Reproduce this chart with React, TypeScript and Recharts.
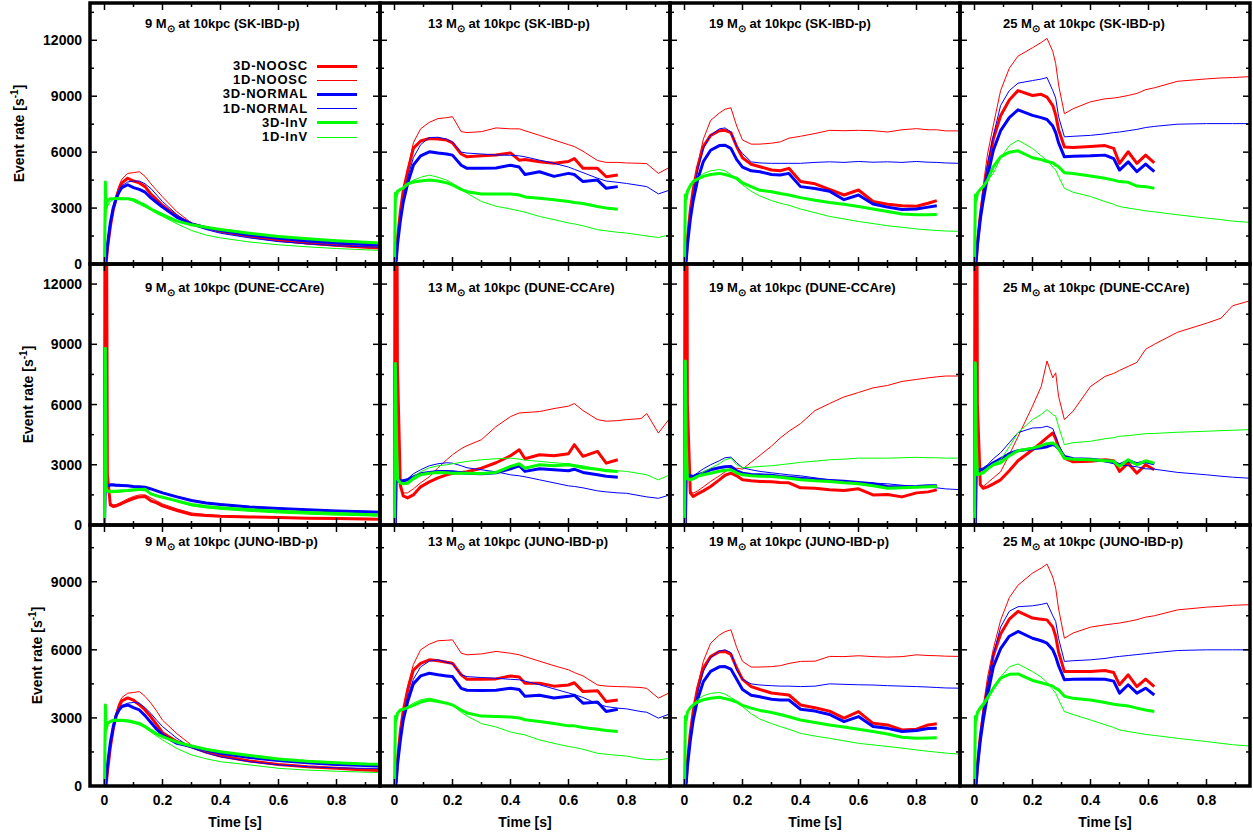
import { LineChart, Line, XAxis, YAxis, Legend } from 'recharts';

const FONT = '"Liberation Sans", Arial, Helvetica, sans-serif';
const PW = 290;
const PH = 261;
const colLeft = [90, 380, 670, 960];
const rowTop = [3, 264, 525];

const masses = ['9', '13', '19', '25'];
const detectors = ['SK-IBD-p', 'DUNE-CCAre', 'JUNO-IBD-p'];
const rowMax = [14000, 13000, 11500];
const yTicksSK = [0, 1500, 3000, 4500, 6000, 7500, 9000, 10500, 12000, 13500];
const yTicksDUNE = [0, 1500, 3000, 4500, 6000, 7500, 9000, 10500, 12000];
const yTicksJUNO = [0, 1500, 3000, 4500, 6000, 7500, 9000, 10500];
const xTicks = [0, 0.1, 0.2, 0.3, 0.4, 0.5, 0.6, 0.7, 0.8, 0.9];

// time grids (s), one per progenitor mass
const t9 = [0, 0.003, 0.006, 0.01, 0.02, 0.03, 0.04, 0.05, 0.06, 0.08, 0.1, 0.12, 0.14, 0.16, 0.18, 0.2, 0.25, 0.3, 0.35, 0.4, 0.5, 0.6, 0.7, 0.8, 0.9, 0.95];
const t13 = [0, 0.003, 0.006, 0.01, 0.02, 0.03, 0.045, 0.065, 0.09, 0.12, 0.15, 0.18, 0.2, 0.23, 0.25, 0.3, 0.35, 0.4, 0.43, 0.45, 0.5, 0.55, 0.6, 0.62, 0.65, 0.7, 0.73, 0.77, 0.8, 0.85, 0.87, 0.91, 0.95];
const t19 = [0, 0.003, 0.006, 0.01, 0.02, 0.03, 0.045, 0.065, 0.09, 0.12, 0.14, 0.16, 0.18, 0.2, 0.23, 0.26, 0.3, 0.33, 0.36, 0.4, 0.45, 0.5, 0.55, 0.6, 0.65, 0.7, 0.75, 0.8, 0.84, 0.87, 0.9, 0.95];
const t25 = [0, 0.003, 0.006, 0.01, 0.02, 0.03, 0.045, 0.065, 0.09, 0.12, 0.15, 0.2, 0.23, 0.25, 0.27, 0.28, 0.29, 0.31, 0.34, 0.4, 0.45, 0.48, 0.5, 0.53, 0.56, 0.59, 0.62, 0.7, 0.8, 0.85, 0.89, 0.95];

// SK-IBD-p
const sk9Noosc3d = [0, 0, 100, 800, 2000, 2900, 3500, 4000, 4350, 4600, 4450, 4350, 4150, 3750, 3450, 3150, 2550, 2150, 1950, 1750, 1500, 1300, 1130, 1000, 900, 860];
const sk9Noosc1d = [0, 0, 200, 900, 2100, 3000, 3700, 4200, 4550, 4860, 4900, 4950, 4700, 4300, 3950, 3600, 2800, 2200, 1900, 1700, 1420, 1220, 1070, 960, 880, 850];
const sk9Normal3d = [0, 0, 300, 1000, 2200, 3000, 3500, 3850, 4100, 4250, 4100, 4000, 3850, 3550, 3300, 3050, 2500, 2150, 1950, 1800, 1550, 1380, 1230, 1120, 1050, 1020];
const sk9Normal1d = [0, 0, 300, 1000, 2200, 3000, 3550, 3950, 4200, 4400, 4450, 4450, 4300, 4050, 3700, 3350, 2650, 2100, 1850, 1650, 1400, 1200, 1080, 980, 920, 900];
const sk9Inv3d = [0, 4400, 3000, 3400, 3500, 3500, 3520, 3500, 3500, 3500, 3450, 3300, 3150, 2950, 2800, 2650, 2300, 2100, 1970, 1850, 1650, 1480, 1350, 1250, 1170, 1130];
const sk9Inv1d = [0, 2000, 2800, 3100, 3350, 3450, 3520, 3550, 3540, 3500, 3350, 3200, 3050, 2900, 2700, 2550, 2150, 1800, 1550, 1400, 1180, 1030, 920, 830, 760, 730];

const sk13Noosc3d = [0, 0, 300, 1300, 2800, 3900, 4950, 6200, 6600, 6730, 6700, 6650, 6500, 5900, 5750, 5800, 5850, 5960, 5570, 5600, 5480, 5400, 5500, 5660, 5130, 5130, 4680, 4770];
const sk13Noosc1d = [0, 0, 200, 1200, 2700, 3800, 5000, 6500, 7250, 7600, 7800, 7850, 7900, 7100, 7050, 7100, 7300, 7250, 7250, 7150, 6900, 6650, 6400, 6300, 6050, 5550, 5450, 5450, 5420, 5400, 5380, 4860, 5200];
const sk13Normal3d = [0, 0, 200, 1000, 2300, 3300, 4300, 5300, 5800, 6020, 5950, 5900, 5840, 5300, 5130, 5130, 5150, 5300, 5200, 4800, 4950, 4700, 4860, 4800, 4420, 4500, 4060, 4150];
const sk13Normal1d = [0, 0, 200, 1100, 2500, 3500, 4600, 5700, 6400, 6780, 6800, 6700, 6550, 6000, 5950, 5900, 5850, 5830, 5800, 5750, 5570, 5400, 5200, 5080, 4900, 4600, 4450, 4380, 4320, 4200, 4150, 3760, 3970];
const sk13Inv3d = [0, 3800, 3600, 3900, 4000, 4060, 4300, 4400, 4450, 4500, 4450, 4350, 4240, 4000, 3880, 3760, 3760, 3760, 3700, 3600, 3530, 3450, 3350, 3300, 3250, 3080, 3000, 2940];
const sk13Inv1d = [0, 3000, 3500, 3800, 3950, 4050, 4300, 4500, 4650, 4770, 4650, 4500, 4330, 4000, 3800, 3350, 3100, 2950, 2850, 2780, 2550, 2380, 2200, 2150, 2050, 1840, 1780, 1700, 1660, 1550, 1500, 1420, 1570];

const sk19Noosc3d = [0, 0, 250, 1300, 2900, 4000, 5200, 6300, 6900, 7150, 7170, 7050, 6300, 5700, 5350, 5220, 5040, 5000, 5130, 4420, 4300, 4000, 3700, 3970, 3350, 3200, 3120, 3100, 3260, 3400];
const sk19Noosc1d = [0, 0, 200, 1200, 2800, 3900, 5300, 6700, 7700, 8100, 8300, 8380, 7400, 6650, 6430, 6430, 6480, 6550, 6750, 6850, 7000, 7170, 7150, 7170, 7150, 7080, 7200, 7260, 7200, 7200, 7140, 7140];
const sk19Normal3d = [0, 0, 200, 1000, 2400, 3400, 4500, 5500, 6100, 6350, 6370, 6200, 5600, 5200, 5000, 4950, 4800, 4770, 4860, 4150, 4050, 3900, 3450, 3700, 3220, 3050, 2920, 2950, 3050, 3120];
const sk19Normal1d = [0, 0, 200, 1100, 2600, 3700, 5000, 6200, 6900, 7250, 7300, 7080, 6300, 5930, 5480, 5420, 5400, 5400, 5400, 5400, 5450, 5480, 5450, 5500, 5460, 5480, 5450, 5500, 5460, 5450, 5420, 5400];
const sk19Inv3d = [0, 3700, 3500, 3900, 4200, 4420, 4550, 4700, 4800, 4860, 4800, 4700, 4600, 4350, 4150, 3950, 3880, 3780, 3700, 3560, 3420, 3300, 3200, 3080, 2950, 2820, 2680, 2640, 2640, 2650];
const sk19Inv1d = [0, 3000, 3500, 3800, 4100, 4350, 4600, 4850, 5000, 5070, 5000, 4800, 4500, 4250, 3900, 3650, 3400, 3260, 3150, 2950, 2750, 2550, 2420, 2280, 2170, 2050, 1970, 1880, 1830, 1800, 1770, 1750];

const sk25Noosc3d = [0, 0, 200, 1100, 2600, 3700, 5100, 6700, 7950, 8800, 9300, 9040, 9100, 8950, 8500, 8000, 7200, 6280, 6250, 6300, 6350, 6200, 5400, 6020, 5400, 5840, 5430];
const sk25Noosc1d = [0, 0, 200, 1200, 2900, 4200, 5900, 7450, 9300, 10500, 11150, 11600, 11880, 12100, 11400, 10750, 9600, 8060, 8330, 8700, 8860, 8900, 8950, 9040, 9150, 9350, 9450, 9800, 9930, 9980, 10000, 10050];
const sk25Normal3d = [0, 0, 200, 1000, 2400, 3400, 4700, 6100, 7150, 7850, 8270, 7970, 7850, 7750, 7400, 7050, 6500, 5750, 5780, 5800, 5840, 5650, 5040, 5480, 4950, 5360, 4950];
const sk25Normal1d = [0, 0, 200, 1100, 2700, 3900, 5400, 6900, 8500, 9300, 9700, 9840, 9920, 10000, 9300, 8900, 7900, 6820, 6850, 6900, 6980, 7050, 7080, 7150, 7220, 7320, 7380, 7500, 7530, 7530, 7530, 7530];
const sk25Inv3d = [0, 3700, 3400, 3800, 4000, 4150, 4500, 5220, 5750, 6000, 6070, 5700, 5600, 5500, 5430, 5300, 5220, 4900, 4860, 4720, 4600, 4500, 4420, 4380, 4180, 4150, 4060];
const sk25Inv1d = [0, 3000, 3500, 3800, 4000, 4150, 4500, 4860, 5700, 6350, 6640, 6200, 5800, 5570, 5200, 5040, 4700, 4060, 3850, 3620, 3350, 3200, 3080, 3000, 2930, 2850, 2800, 2640, 2460, 2380, 2300, 2230];

// DUNE-CCAre (first points above the frame are the neutronization burst)
const dune9Noosc3d = [750, 30000, 20000, 2500, 1000, 920, 950, 1000, 1080, 1200, 1320, 1400, 1420, 1200, 1100, 950, 720, 520, 470, 430, 400, 370, 340, 320, 300, 290];
const dune9Noosc1d = [1900, 30000, 15000, 2500, 1100, 1000, 1020, 1080, 1150, 1300, 1420, 1500, 1500, 1350, 1200, 1050, 800, 600, 520, 470, 420, 380, 360, 340, 330, 320];
const dune9Normal3d = [0, 2250, 2000, 1950, 2000, 2000, 1980, 1980, 1970, 1950, 1920, 1900, 1880, 1800, 1700, 1600, 1400, 1220, 1100, 1020, 900, 820, 760, 700, 660, 630];
const dune9Normal1d = [0, 2100, 1950, 1900, 1950, 1950, 1950, 1940, 1930, 1920, 1900, 1880, 1860, 1820, 1720, 1620, 1420, 1240, 1120, 1040, 920, 840, 770, 710, 670, 640];
const dune9Inv3d = [0, 8800, 1800, 1700, 1680, 1680, 1680, 1690, 1700, 1720, 1750, 1770, 1780, 1550, 1450, 1380, 1200, 1020, 920, 860, 760, 680, 620, 570, 520, 500];
const dune9Inv1d = [0, 8000, 1700, 1620, 1600, 1610, 1620, 1630, 1650, 1680, 1700, 1720, 1700, 1600, 1480, 1380, 1150, 950, 850, 780, 680, 600, 540, 490, 460, 440];

const dune13Noosc3d = [700, 30000, 30000, 8000, 2000, 1450, 1350, 1500, 1900, 2150, 2350, 2500, 2580, 2620, 2650, 2830, 3100, 3450, 3750, 3300, 3500, 3450, 3550, 4000, 3420, 3670, 3080, 3250];
const dune13Noosc1d = [1900, 30000, 20000, 5000, 1800, 1600, 1600, 1800, 2100, 2400, 2850, 3250, 3500, 3800, 3950, 4250, 4900, 5400, 5580, 5600, 5650, 5800, 5920, 6050, 5700, 5250, 5170, 5200, 5250, 5300, 5550, 4580, 5330];
const dune13Normal3d = [0, 0, 2300, 2250, 2200, 2200, 2250, 2400, 2550, 2620, 2660, 2660, 2650, 2600, 2580, 2550, 2600, 2800, 2950, 2670, 2800, 2750, 2700, 2780, 2620, 2500, 2430, 2380];
const dune13Normal1d = [0, 0, 2200, 2150, 2100, 2150, 2300, 2550, 2750, 2950, 3050, 3100, 3080, 2950, 2850, 2750, 2650, 2500, 2450, 2400, 2250, 2100, 1950, 1920, 1850, 1700, 1650, 1600, 1580, 1450, 1400, 1330, 1500];
const dune13Inv3d = [0, 8050, 5000, 2300, 2100, 2050, 2080, 2300, 2500, 2580, 2620, 2600, 2580, 2580, 2580, 2560, 2620, 2920, 3050, 2830, 3000, 2950, 3000, 2950, 2850, 2780, 2700, 2670];
const dune13Inv1d = [0, 7000, 4000, 2200, 2050, 2050, 2150, 2400, 2650, 2850, 2950, 3000, 3050, 3120, 3170, 3250, 3300, 3330, 3280, 3230, 3170, 3100, 3050, 3000, 2950, 2780, 2760, 2700, 2670, 2550, 2500, 2250, 2500];

const dune19Noosc3d = [700, 30000, 30000, 6000, 1600, 1420, 1550, 1700, 1920, 2250, 2480, 2580, 2450, 2250, 2200, 2170, 2150, 2120, 2100, 1850, 1830, 1750, 1720, 1800, 1500, 1520, 1400, 1600, 1650, 1750];
const dune19Noosc1d = [1500, 30000, 15000, 4000, 1700, 1580, 1700, 1900, 2170, 2450, 2650, 2830, 2830, 2780, 3130, 3470, 3930, 4330, 4670, 5050, 5700, 6050, 6380, 6600, 6830, 6950, 7150, 7250, 7330, 7380, 7420, 7420];
const dune19Normal3d = [0, 0, 2400, 2500, 2450, 2420, 2500, 2600, 2750, 2850, 2900, 2920, 2700, 2580, 2520, 2500, 2480, 2420, 2380, 2330, 2270, 2220, 2180, 2120, 2050, 1920, 1900, 1920, 1950, 1950];
const dune19Normal1d = [0, 0, 2300, 2400, 2420, 2450, 2600, 2800, 3000, 3200, 3350, 3380, 3100, 2850, 2750, 2670, 2600, 2550, 2500, 2450, 2350, 2250, 2180, 2120, 2090, 2050, 1980, 1920, 1880, 1850, 1800, 1760];
const dune19Inv3d = [0, 8170, 4000, 2300, 2250, 2300, 2420, 2500, 2580, 2680, 2730, 2750, 2600, 2500, 2450, 2430, 2420, 2380, 2330, 2250, 2200, 2170, 2100, 2050, 1950, 1830, 1850, 1880, 1900, 1920];
const dune19Inv1d = [0, 7000, 3500, 2300, 2300, 2350, 2450, 2650, 2830, 3050, 3250, 3330, 3000, 2850, 2880, 2920, 2950, 3000, 3050, 3120, 3180, 3250, 3280, 3330, 3330, 3330, 3350, 3370, 3350, 3350, 3330, 3330];

const dune25Noosc3d = [700, 30000, 30000, 6000, 2000, 1830, 1900, 2050, 2250, 2700, 3200, 3750, 4100, 4350, 4580, 4300, 3900, 3330, 3150, 3170, 3250, 3200, 2670, 3080, 2580, 3000, 2750];
const dune25Noosc1d = [1500, 30000, 15000, 4000, 2000, 1920, 2100, 2350, 2650, 3500, 4400, 5920, 6900, 8170, 7330, 7580, 6400, 5250, 5670, 6900, 7400, 7550, 7700, 7900, 8100, 8750, 9000, 9600, 10050, 10300, 10920, 11170];
const dune25Normal3d = [0, 0, 2400, 2700, 2750, 2750, 2900, 3100, 3300, 3550, 3700, 3800, 3850, 3900, 4000, 3950, 3800, 3420, 3300, 3280, 3200, 3150, 3000, 3200, 3050, 3150, 3050];
const dune25Normal1d = [0, 0, 2500, 2700, 2800, 2850, 3000, 3300, 3600, 4100, 4600, 4830, 4850, 4920, 4800, 4420, 4000, 3420, 3300, 3250, 3150, 3050, 3000, 2950, 2900, 2800, 2780, 2620, 2500, 2430, 2380, 2330];
const dune25Inv3d = [0, 8080, 4000, 2500, 2550, 2600, 2800, 3000, 3100, 3450, 3700, 3830, 3950, 4050, 4080, 4000, 3800, 3330, 3280, 3250, 3200, 3170, 2920, 3250, 3000, 3200, 3080];
const dune25Inv1d = [0, 7000, 3500, 2500, 2600, 2700, 2850, 3050, 3250, 3900, 4600, 5250, 5500, 5750, 5500, 5420, 4900, 4000, 4100, 4170, 4300, 4350, 4420, 4450, 4500, 4550, 4560, 4620, 4670, 4700, 4720, 4750];

// JUNO-IBD-p
const juno9Noosc3d = [0, 0, 100, 600, 1700, 2500, 3100, 3500, 3750, 3880, 3780, 3580, 3350, 3050, 2700, 2350, 1950, 1720, 1500, 1320, 1100, 950, 850, 780, 710, 680];
const juno9Noosc1d = [0, 0, 150, 700, 1800, 2600, 3200, 3650, 3900, 4090, 4120, 4160, 3950, 3650, 3300, 2900, 2300, 1800, 1550, 1370, 1120, 960, 860, 790, 760, 740];
const juno9Normal3d = [0, 0, 300, 900, 1900, 2600, 3100, 3350, 3500, 3570, 3450, 3350, 3100, 2800, 2500, 2250, 1880, 1740, 1580, 1440, 1260, 1120, 1020, 950, 900, 880];
const juno9Normal1d = [0, 0, 300, 900, 1900, 2600, 3100, 3400, 3550, 3650, 3680, 3650, 3450, 3200, 2900, 2620, 2100, 1680, 1460, 1290, 1070, 930, 850, 800, 780, 780];
const juno9Inv3d = [0, 3570, 2500, 2750, 2850, 2900, 2910, 2900, 2900, 2880, 2820, 2760, 2620, 2450, 2300, 2180, 1930, 1760, 1620, 1510, 1340, 1190, 1090, 1020, 970, 960];
const juno9Inv1d = [0, 1800, 2500, 2700, 2800, 2840, 2850, 2840, 2840, 2820, 2760, 2690, 2560, 2380, 2200, 2030, 1650, 1370, 1200, 1070, 930, 780, 700, 650, 610, 590];

const juno13Noosc3d = [0, 0, 250, 1100, 2400, 3300, 4200, 5100, 5400, 5560, 5520, 5450, 5410, 4900, 4700, 4700, 4720, 4850, 4800, 4530, 4530, 4400, 4450, 4550, 4160, 4200, 3720, 3790];
const juno13Noosc1d = [0, 0, 200, 1000, 2300, 3300, 4400, 5350, 6000, 6250, 6400, 6420, 6440, 5850, 5780, 5820, 5930, 5850, 5780, 5700, 5500, 5300, 5120, 5000, 4850, 4450, 4400, 4380, 4370, 4340, 4300, 3870, 4120];
const juno13Normal3d = [0, 0, 200, 900, 2000, 2900, 3700, 4500, 4850, 4970, 4900, 4850, 4820, 4300, 4220, 4210, 4220, 4310, 4250, 3950, 4000, 3880, 3950, 4000, 3650, 3700, 3280, 3380];
const juno13Normal1d = [0, 0, 200, 900, 2100, 3000, 3900, 4700, 5250, 5500, 5560, 5450, 5380, 4900, 4820, 4780, 4750, 4700, 4680, 4620, 4460, 4280, 4100, 4030, 3900, 3620, 3500, 3430, 3400, 3280, 3250, 2990, 3180];
const juno13Inv3d = [0, 3060, 2900, 3200, 3350, 3380, 3450, 3550, 3700, 3790, 3720, 3650, 3570, 3350, 3220, 3080, 3060, 3040, 3000, 2920, 2840, 2750, 2650, 2650, 2580, 2500, 2450, 2400];
const juno13Inv1d = [0, 2500, 2900, 3150, 3300, 3350, 3500, 3650, 3800, 3870, 3780, 3650, 3560, 3250, 3080, 2750, 2600, 2380, 2300, 2250, 2030, 1880, 1740, 1700, 1620, 1440, 1400, 1350, 1320, 1200, 1170, 1150, 1220];

const juno19Noosc3d = [0, 0, 200, 1050, 2350, 3300, 4300, 5200, 5700, 5920, 5930, 5800, 5200, 4700, 4380, 4250, 4100, 4050, 4010, 3570, 3450, 3300, 2990, 3280, 2760, 2690, 2470, 2500, 2690, 2740];
const juno19Noosc1d = [0, 0, 150, 1000, 2300, 3300, 4400, 5500, 6290, 6650, 6800, 6880, 6100, 5490, 5240, 5240, 5260, 5300, 5400, 5490, 5500, 5710, 5700, 5740, 5700, 5680, 5700, 5780, 5750, 5740, 5720, 5710];
const juno19Normal3d = [0, 0, 150, 850, 2000, 2900, 3800, 4600, 5050, 5250, 5260, 5150, 4700, 4250, 4000, 3930, 3820, 3790, 3790, 3380, 3300, 3150, 2840, 3060, 2620, 2540, 2400, 2450, 2530, 2540];
const juno19Normal1d = [0, 0, 150, 900, 2100, 3050, 4100, 5050, 5650, 5950, 6000, 5880, 5100, 4700, 4500, 4450, 4420, 4400, 4400, 4380, 4400, 4500, 4480, 4460, 4450, 4420, 4400, 4380, 4360, 4340, 4320, 4310];
const juno19Inv3d = [0, 3060, 2900, 3250, 3450, 3570, 3700, 3800, 3870, 3910, 3850, 3790, 3700, 3550, 3430, 3330, 3240, 3150, 3050, 2910, 2800, 2690, 2600, 2500, 2400, 2290, 2150, 2100, 2120, 2130];
const juno19Inv1d = [0, 2500, 2900, 3200, 3450, 3600, 3800, 3980, 4080, 4120, 4050, 3900, 3720, 3500, 3180, 2950, 2750, 2620, 2500, 2320, 2200, 2100, 1990, 1880, 1810, 1740, 1670, 1590, 1530, 1490, 1450, 1400];

const juno25Noosc3d = [0, 0, 150, 900, 2200, 3100, 4300, 5750, 6700, 7350, 7690, 7400, 7350, 7320, 7000, 6600, 5900, 5040, 5040, 5050, 5090, 5000, 4460, 4900, 4380, 4710, 4380];
const juno25Noosc1d = [0, 0, 150, 1000, 2400, 3500, 4800, 6050, 7300, 8300, 8850, 9380, 9600, 9780, 9200, 8720, 7800, 6510, 6740, 7000, 7100, 7150, 7180, 7250, 7330, 7440, 7500, 7760, 7880, 7920, 7960, 7990];
const juno25Normal3d = [0, 0, 150, 800, 2000, 2900, 4000, 5260, 6050, 6600, 6810, 6510, 6400, 6290, 6000, 5700, 5300, 4680, 4700, 4710, 4700, 4620, 4090, 4460, 4090, 4310, 4010];
const juno25Normal1d = [0, 0, 150, 900, 2300, 3300, 4500, 5800, 7000, 7700, 7900, 7940, 8000, 8060, 7500, 7250, 6500, 5490, 5520, 5560, 5620, 5680, 5710, 5750, 5790, 5830, 5870, 5970, 6000, 6000, 6000, 6000];
const juno25Inv3d = [0, 3060, 2900, 3250, 3450, 3600, 3900, 4310, 4750, 4920, 4940, 4650, 4550, 4480, 4400, 4300, 4240, 3950, 3870, 3790, 3680, 3600, 3570, 3530, 3430, 3350, 3280];
const juno25Inv1d = [0, 2500, 2900, 3150, 3350, 3500, 3800, 4240, 4800, 5250, 5380, 5040, 4800, 4560, 4250, 4090, 3800, 3280, 3150, 2910, 2700, 2580, 2470, 2400, 2340, 2270, 2230, 2100, 1960, 1880, 1820, 1760];

const seriesStyle = [
  { key: 'noosc3d', name: '3D-NOOSC', color: '#ff0000', width: 3 },
  { key: 'noosc1d', name: '1D-NOOSC', color: '#ff0000', width: 1 },
  { key: 'normal3d', name: '3D-NORMAL', color: '#0000ff', width: 3 },
  { key: 'normal1d', name: '1D-NORMAL', color: '#0000ff', width: 1 },
  { key: 'inv3d', name: '3D-InV', color: '#00ff00', width: 3 },
  { key: 'inv1d', name: '1D-InV', color: '#00ff00', width: 1 },
];

const panels = [
  { row: 0, col: 0, times: t9, series: [sk9Noosc3d, sk9Noosc1d, sk9Normal3d, sk9Normal1d, sk9Inv3d, sk9Inv1d] },
  { row: 0, col: 1, times: t13, series: [sk13Noosc3d, sk13Noosc1d, sk13Normal3d, sk13Normal1d, sk13Inv3d, sk13Inv1d] },
  { row: 0, col: 2, times: t19, series: [sk19Noosc3d, sk19Noosc1d, sk19Normal3d, sk19Normal1d, sk19Inv3d, sk19Inv1d] },
  { row: 0, col: 3, times: t25, series: [sk25Noosc3d, sk25Noosc1d, sk25Normal3d, sk25Normal1d, sk25Inv3d, sk25Inv1d] },
  { row: 1, col: 0, times: t9, series: [dune9Noosc3d, dune9Noosc1d, dune9Normal3d, dune9Normal1d, dune9Inv3d, dune9Inv1d] },
  { row: 1, col: 1, times: t13, series: [dune13Noosc3d, dune13Noosc1d, dune13Normal3d, dune13Normal1d, dune13Inv3d, dune13Inv1d] },
  { row: 1, col: 2, times: t19, series: [dune19Noosc3d, dune19Noosc1d, dune19Normal3d, dune19Normal1d, dune19Inv3d, dune19Inv1d] },
  { row: 1, col: 3, times: t25, series: [dune25Noosc3d, dune25Noosc1d, dune25Normal3d, dune25Normal1d, dune25Inv3d, dune25Inv1d] },
  { row: 2, col: 0, times: t9, series: [juno9Noosc3d, juno9Noosc1d, juno9Normal3d, juno9Normal1d, juno9Inv3d, juno9Inv1d] },
  { row: 2, col: 1, times: t13, series: [juno13Noosc3d, juno13Noosc1d, juno13Normal3d, juno13Normal1d, juno13Inv3d, juno13Inv1d] },
  { row: 2, col: 2, times: t19, series: [juno19Noosc3d, juno19Noosc1d, juno19Normal3d, juno19Normal1d, juno19Inv3d, juno19Inv1d] },
  { row: 2, col: 3, times: t25, series: [juno25Noosc3d, juno25Noosc1d, juno25Normal3d, juno25Normal1d, juno25Inv3d, juno25Inv1d] },
];

const yTicksByRow = [yTicksSK, yTicksDUNE, yTicksJUNO];
const titleDx = [55, 48, 39, 43];
const titleDy = [25, 28, 21];
const ylabelX = [24, 33, 42];

function buildRows(times: number[], series: number[][]) {
  return times.map((t, i) => {
    const row: Record<string, number | null> = { t };
    seriesStyle.forEach((s, k) => {
      const v = series[k][i];
      row[s.key] = v === undefined ? null : v;
    });
    return row;
  });
}

const makeYTick = (showLabel: boolean) => (props: any) => {
  const { x, y, payload } = props;
  const v = payload.value;
  const major = v % 3000 === 0;
  const len = major ? 7 : 4;
  return (
    <g>
      <line x1={x} x2={x + len} y1={y} y2={y} stroke="#000" strokeWidth={1.5} />
      <line x1={x + PW - len} x2={x + PW} y1={y} y2={y} stroke="#000" strokeWidth={1.5} />
      {showLabel && major && (
        <text x={x - 8} y={y + 5} textAnchor="end" fontSize={14} fontWeight="bold" fontFamily={FONT} fill="#000">
          {v}
        </text>
      )}
    </g>
  );
};

const makeXTick = (showLabel: boolean) => (props: any) => {
  const { x, y, payload } = props;
  const v = payload.value;
  const major = Math.round(v * 10) % 2 === 0;
  const len = major ? 7 : 4;
  return (
    <g>
      <line x1={x} x2={x} y1={y} y2={y - len} stroke="#000" strokeWidth={1.5} />
      <line x1={x} x2={x} y1={y - PH} y2={y - PH + len} stroke="#000" strokeWidth={1.5} />
      {showLabel && major && (
        <text x={x} y={y + 19} textAnchor="middle" fontSize={14} fontWeight="bold" fontFamily={FONT} fill="#000">
          {v === 0 ? '0' : v.toFixed(1)}
        </text>
      )}
    </g>
  );
};

const renderLegend = (props: any) => {
  const payload = props.payload || [];
  return (
    <div style={{ fontFamily: FONT }}>
      {seriesStyle.map((s) => {
        const entry = payload.find((p: any) => p.dataKey === s.key);
        return (
          <div key={s.key} style={{ display: 'flex', alignItems: 'center', height: 14.2 }}>
            <span style={{ width: 118, textAlign: 'right', fontSize: 13, fontWeight: 'bold', letterSpacing: 0.8, lineHeight: '14px', color: '#000' }}>
              {entry ? entry.value : s.name}
            </span>
            <span style={{ marginLeft: 9, width: 40, height: s.width, background: s.color, display: 'inline-block' }} />
          </div>
        );
      })}
    </div>
  );
};

function Panel({ p }: { p: (typeof panels)[number] }) {
  const padL = p.col === 0 ? 90 : 1;
  // bottom room: the bottom row carries the time labels, column 0 needs room for the "0" label
  const padB = p.row === 2 ? 50 : 12;
  const rows = buildRows(p.times, p.series);
  return (
    <div style={{ position: 'absolute', left: colLeft[p.col] - padL, top: rowTop[p.row] }}>
      <LineChart width={PW + padL} height={PH + padB} data={rows} margin={{ top: 0, right: 0, bottom: 0, left: 0 }}>
        <XAxis
          dataKey="t"
          type="number"
          domain={[-0.05, 0.95]}
          allowDataOverflow
          ticks={xTicks}
          interval={0}
          height={padB}
          tickSize={0}
          tickMargin={0}
          axisLine={false}
          tickLine={false}
          tick={makeXTick(p.row === 2)}
        />
        <YAxis
          type="number"
          domain={[0, rowMax[p.row]]}
          allowDataOverflow
          ticks={yTicksByRow[p.row]}
          interval={0}
          width={padL}
          tickSize={0}
          tickMargin={0}
          axisLine={false}
          tickLine={false}
          tick={makeYTick(p.col === 0)}
        />
        {seriesStyle.map((s) => (
          <Line
            key={s.key}
            dataKey={s.key}
            name={s.name}
            type="linear"
            stroke={s.color}
            strokeWidth={s.width}
            strokeLinejoin="round"
            dot={false}
            activeDot={false}
            isAnimationActive={false}
          />
        ))}
        {p.row === 0 && p.col === 0 && (
          <Legend
            layout="horizontal"
            verticalAlign="middle"
            align="center"
            content={renderLegend}
            wrapperStyle={{ left: 190, top: 56, width: 170, height: 86 }}
          />
        )}
      </LineChart>
    </div>
  );
}

export default function App() {
  return (
    <div style={{ position: 'absolute', left: 0, top: 0, width: 1253, height: 834, background: '#fff', overflow: 'hidden' }}>
      {panels.map((p) => (
        <Panel key={`${p.row}-${p.col}`} p={p} />
      ))}
      <svg width={1253} height={834} style={{ position: 'absolute', left: 0, top: 0, pointerEvents: 'none' }}>
        {panels.map((p) => (
          <rect
            key={`b-${p.row}-${p.col}`}
            x={colLeft[p.col]}
            y={rowTop[p.row]}
            width={PW}
            height={PH}
            fill="none"
            stroke="#000"
            strokeWidth={3.5}
          />
        ))}
        {panels.map((p) => (
          <text
            key={`t-${p.row}-${p.col}`}
            x={colLeft[p.col] + titleDx[p.col]}
            y={rowTop[p.row] + titleDy[p.row]}
            fontSize={13}
            fontWeight="bold"
            fontFamily={FONT}
            fill="#000"
          >
            {masses[p.col]} M<tspan dy={4} fontSize={10}>⊙</tspan>
            <tspan dy={-4}> at 10kpc ({detectors[p.row]})</tspan>
          </text>
        ))}
        {rowTop.map((top, r) => (
          <text
            key={`yl-${r}`}
            transform={`translate(${ylabelX[r]}, ${top + PH / 2}) rotate(-90)`}
            textAnchor="middle"
            fontSize={14}
            fontWeight="bold"
            fontFamily={FONT}
            fill="#000"
          >
            Event rate [s<tspan dy={-6} fontSize={10}>-1</tspan>
            <tspan dy={6}>]</tspan>
          </text>
        ))}
        {colLeft.map((left, c) => (
          <text
            key={`xl-${c}`}
            x={left + PW / 2}
            y={827}
            textAnchor="middle"
            fontSize={14}
            fontWeight="bold"
            fontFamily={FONT}
            fill="#000"
          >
            Time [s]
          </text>
        ))}
      </svg>
    </div>
  );
}
